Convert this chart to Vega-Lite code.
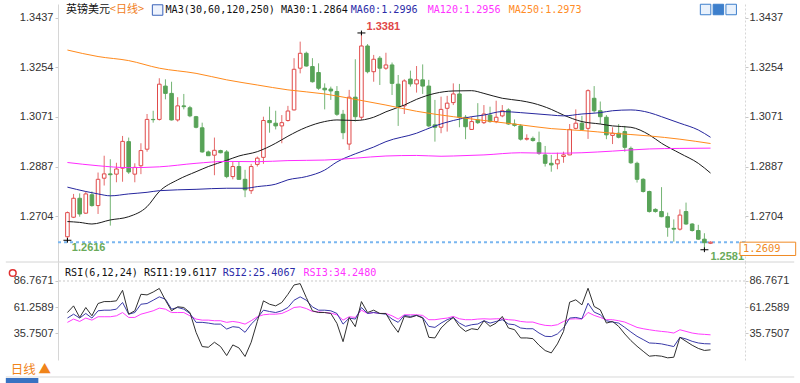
{
"$schema": "https://vega.github.io/schema/vega-lite/v6.json",
"width": 687,
"height": 360,
"autosize": {"type": "none"},
"padding": {"left": 58, "top": 0, "right": 55, "bottom": 23},
"background": "#ffffff",
"config": {"view": {"stroke": null}},
"datasets": {
"candles": [
{"i":0,"o":1.2629,"h":1.2722,"l":1.2616,"c":1.2718},
{"i":1,"o":1.2701,"h":1.2787,"l":1.2698,"c":1.2771},
{"i":2,"o":1.2771,"h":1.2789,"l":1.2703,"c":1.2713},
{"i":3,"o":1.2716,"h":1.2796,"l":1.2713,"c":1.2787},
{"i":4,"o":1.2784,"h":1.2796,"l":1.2740,"c":1.2744},
{"i":5,"o":1.2744,"h":1.2866,"l":1.2713,"c":1.2841},
{"i":6,"o":1.2845,"h":1.2928,"l":1.2818,"c":1.2861},
{"i":7,"o":1.2861,"h":1.2915,"l":1.2670,"c":1.2858},
{"i":8,"o":1.2860,"h":1.2902,"l":1.2830,"c":1.2879},
{"i":9,"o":1.2882,"h":1.3001,"l":1.2832,"c":1.2981},
{"i":10,"o":1.2980,"h":1.2995,"l":1.2861,"c":1.2868},
{"i":11,"o":1.2860,"h":1.2900,"l":1.2830,"c":1.2885},
{"i":12,"o":1.2891,"h":1.2974,"l":1.2860,"c":1.2947},
{"i":13,"o":1.2952,"h":1.3082,"l":1.2943,"c":1.3062},
{"i":14,"o":1.3062,"h":1.3094,"l":1.3050,"c":1.3061},
{"i":15,"o":1.3062,"h":1.3214,"l":1.3058,"c":1.3192},
{"i":16,"o":1.3185,"h":1.3210,"l":1.3136,"c":1.3158},
{"i":17,"o":1.3158,"h":1.3201,"l":1.3058,"c":1.3060},
{"i":18,"o":1.3060,"h":1.3144,"l":1.3054,"c":1.3112},
{"i":19,"o":1.3112,"h":1.3156,"l":1.3099,"c":1.3109},
{"i":20,"o":1.3105,"h":1.3112,"l":1.3070,"c":1.3075},
{"i":21,"o":1.3072,"h":1.3075,"l":1.3029,"c":1.3033},
{"i":22,"o":1.3031,"h":1.3050,"l":1.2939,"c":1.2942},
{"i":23,"o":1.2942,"h":1.2947,"l":1.2927,"c":1.2928},
{"i":24,"o":1.2930,"h":1.2995,"l":1.2856,"c":1.2948},
{"i":25,"o":1.2947,"h":1.2950,"l":1.2937,"c":1.2939},
{"i":26,"o":1.2942,"h":1.2949,"l":1.2845,"c":1.2851},
{"i":27,"o":1.2851,"h":1.2906,"l":1.2841,"c":1.2888},
{"i":28,"o":1.2888,"h":1.2906,"l":1.2839,"c":1.2841},
{"i":29,"o":1.2841,"h":1.2876,"l":1.2775,"c":1.2802},
{"i":30,"o":1.2799,"h":1.2898,"l":1.2787,"c":1.2888},
{"i":31,"o":1.2896,"h":1.2925,"l":1.2888,"c":1.2919},
{"i":32,"o":1.2922,"h":1.3072,"l":1.2898,"c":1.3058},
{"i":33,"o":1.3058,"h":1.3109,"l":1.3013,"c":1.3050},
{"i":34,"o":1.3048,"h":1.3094,"l":1.3025,"c":1.3038},
{"i":35,"o":1.3038,"h":1.3078,"l":1.2974,"c":1.3050},
{"i":36,"o":1.3058,"h":1.3112,"l":1.3054,"c":1.3093},
{"i":37,"o":1.3097,"h":1.3288,"l":1.3095,"c":1.3247},
{"i":38,"o":1.3251,"h":1.3349,"l":1.3232,"c":1.3306},
{"i":39,"o":1.3306,"h":1.3312,"l":1.3257,"c":1.3259},
{"i":40,"o":1.3257,"h":1.3288,"l":1.3198,"c":1.3201},
{"i":41,"o":1.3235,"h":1.3269,"l":1.3171,"c":1.3177},
{"i":42,"o":1.3177,"h":1.3195,"l":1.3099,"c":1.3171},
{"i":43,"o":1.3174,"h":1.3183,"l":1.3134,"c":1.3167},
{"i":44,"o":1.3165,"h":1.3185,"l":1.3075,"c":1.3081},
{"i":45,"o":1.3081,"h":1.3097,"l":1.2989,"c":1.3013},
{"i":46,"o":1.2971,"h":1.3171,"l":1.2949,"c":1.3144},
{"i":47,"o":1.3144,"h":1.3284,"l":1.3054,"c":1.3072},
{"i":48,"o":1.3070,"h":1.3381,"l":1.3060,"c":1.3333},
{"i":49,"o":1.3333,"h":1.3340,"l":1.3232,"c":1.3238},
{"i":50,"o":1.3238,"h":1.3300,"l":1.3201,"c":1.3284},
{"i":51,"o":1.3288,"h":1.3296,"l":1.3189,"c":1.3251},
{"i":52,"o":1.3251,"h":1.3308,"l":1.3245,"c":1.3263},
{"i":53,"o":1.3263,"h":1.3272,"l":1.3152,"c":1.3195},
{"i":54,"o":1.3192,"h":1.3226,"l":1.3038,"c":1.3109},
{"i":55,"o":1.3112,"h":1.3210,"l":1.3082,"c":1.3204},
{"i":56,"o":1.3211,"h":1.3242,"l":1.3183,"c":1.3193},
{"i":57,"o":1.3193,"h":1.3259,"l":1.3161,"c":1.3208},
{"i":58,"o":1.3208,"h":1.3265,"l":1.3156,"c":1.3185},
{"i":59,"o":1.3185,"h":1.3208,"l":1.3033,"c":1.3038},
{"i":60,"o":1.3042,"h":1.3134,"l":1.2980,"c":1.3033},
{"i":61,"o":1.3033,"h":1.3146,"l":1.3011,"c":1.3099},
{"i":62,"o":1.3103,"h":1.3149,"l":1.3017,"c":1.3122},
{"i":63,"o":1.3124,"h":1.3195,"l":1.3115,"c":1.3156},
{"i":64,"o":1.3156,"h":1.3193,"l":1.3033,"c":1.3070},
{"i":65,"o":1.3070,"h":1.3078,"l":1.2989,"c":1.3035},
{"i":66,"o":1.3025,"h":1.3072,"l":1.3023,"c":1.3054},
{"i":67,"o":1.3060,"h":1.3122,"l":1.3045,"c":1.3050},
{"i":68,"o":1.3050,"h":1.3115,"l":1.3045,"c":1.3082},
{"i":69,"o":1.3078,"h":1.3109,"l":1.3050,"c":1.3054},
{"i":70,"o":1.3054,"h":1.3131,"l":1.3048,"c":1.3070},
{"i":71,"o":1.3075,"h":1.3115,"l":1.3070,"c":1.3094},
{"i":72,"o":1.3097,"h":1.3103,"l":1.3042,"c":1.3045},
{"i":73,"o":1.3045,"h":1.3062,"l":1.3035,"c":1.3040},
{"i":74,"o":1.3038,"h":1.3045,"l":1.2984,"c":1.2989},
{"i":75,"o":1.2989,"h":1.3007,"l":1.2984,"c":1.2992},
{"i":76,"o":1.2992,"h":1.2999,"l":1.2980,"c":1.2984},
{"i":77,"o":1.2976,"h":1.3017,"l":1.2931,"c":1.2937},
{"i":78,"o":1.2931,"h":1.2964,"l":1.2888,"c":1.2900},
{"i":79,"o":1.2900,"h":1.2931,"l":1.2869,"c":1.2894},
{"i":80,"o":1.2898,"h":1.2939,"l":1.2878,"c":1.2913},
{"i":81,"o":1.2925,"h":1.2943,"l":1.2902,"c":1.2931},
{"i":82,"o":1.2931,"h":1.3045,"l":1.2930,"c":1.3025},
{"i":83,"o":1.3029,"h":1.3099,"l":1.3025,"c":1.3048},
{"i":84,"o":1.3048,"h":1.3075,"l":1.3023,"c":1.3025},
{"i":85,"o":1.3029,"h":1.3173,"l":1.2990,"c":1.3168},
{"i":86,"o":1.3140,"h":1.3185,"l":1.3087,"c":1.3094},
{"i":87,"o":1.3094,"h":1.3128,"l":1.3045,"c":1.3072},
{"i":88,"o":1.3070,"h":1.3078,"l":1.2989,"c":1.3005},
{"i":89,"o":1.3003,"h":1.3033,"l":1.2971,"c":1.3011},
{"i":90,"o":1.3011,"h":1.3045,"l":1.2992,"c":1.2996},
{"i":91,"o":1.3017,"h":1.3038,"l":1.2943,"c":1.2959},
{"i":92,"o":1.2955,"h":1.2962,"l":1.2898,"c":1.2902},
{"i":93,"o":1.2900,"h":1.2906,"l":1.2829,"c":1.2841},
{"i":94,"o":1.2841,"h":1.2845,"l":1.2792,"c":1.2796},
{"i":95,"o":1.2796,"h":1.2799,"l":1.2718,"c":1.2722},
{"i":96,"o":1.2730,"h":1.2734,"l":1.2718,"c":1.2722},
{"i":97,"o":1.2722,"h":1.2812,"l":1.2701,"c":1.2703},
{"i":98,"o":1.2703,"h":1.2718,"l":1.2629,"c":1.2664},
{"i":99,"o":1.2660,"h":1.2693,"l":1.2611,"c":1.2657},
{"i":100,"o":1.2657,"h":1.2730,"l":1.2652,"c":1.2709},
{"i":101,"o":1.2722,"h":1.2755,"l":1.2673,"c":1.2676},
{"i":102,"o":1.2676,"h":1.2679,"l":1.2648,"c":1.2652},
{"i":103,"o":1.2652,"h":1.2673,"l":1.2617,"c":1.2620},
{"i":104,"o":1.2620,"h":1.2642,"l":1.2581,"c":1.2607},
{"i":105,"o":1.2605,"h":1.2612,"l":1.2602,"c":1.2609}
],
"ma": [
{"s":"MA30","i":0,"v":1.2685},{"s":"MA30","i":2,"v":1.2682},{"s":"MA30","i":4,"v":1.2676},{"s":"MA30","i":7,"v":1.2691},{"s":"MA30","i":10,"v":1.2703},{"s":"MA30","i":13,"v":1.2740},{"s":"MA30","i":15,"v":1.2796},{"s":"MA30","i":18,"v":1.2839},{"s":"MA30","i":21,"v":1.2869},{"s":"MA30","i":23,"v":1.2888},{"s":"MA30","i":26,"v":1.2911},{"s":"MA30","i":28,"v":1.2927},{"s":"MA30","i":31,"v":1.2943},{"s":"MA30","i":34,"v":1.2974},{"s":"MA30","i":36,"v":1.3000},{"s":"MA30","i":39,"v":1.3033},{"s":"MA30","i":42,"v":1.3054},{"s":"MA30","i":44,"v":1.3060},{"s":"MA30","i":47,"v":1.3058},{"s":"MA30","i":50,"v":1.3070},{"s":"MA30","i":52,"v":1.3090},{"s":"MA30","i":55,"v":1.3115},{"s":"MA30","i":57,"v":1.3136},{"s":"MA30","i":60,"v":1.3158},{"s":"MA30","i":63,"v":1.3167},{"s":"MA30","i":66,"v":1.3168},{"s":"MA30","i":68,"v":1.3158},{"s":"MA30","i":71,"v":1.3140},{"s":"MA30","i":74,"v":1.3131},{"s":"MA30","i":76,"v":1.3122},{"s":"MA30","i":79,"v":1.3099},{"s":"MA30","i":81,"v":1.3078},{"s":"MA30","i":84,"v":1.3054},{"s":"MA30","i":87,"v":1.3045},{"s":"MA30","i":89,"v":1.3038},{"s":"MA30","i":92,"v":1.3033},{"s":"MA30","i":95,"v":1.3005},{"s":"MA30","i":97,"v":1.2974},{"s":"MA30","i":100,"v":1.2937},{"s":"MA30","i":103,"v":1.2900},{"s":"MA30","i":105,"v":1.2864},
{"s":"MA60","i":0,"v":1.2812},{"s":"MA60","i":3,"v":1.2796},{"s":"MA60","i":5,"v":1.2787},{"s":"MA60","i":7,"v":1.2780},{"s":"MA60","i":10,"v":1.2787},{"s":"MA60","i":13,"v":1.2793},{"s":"MA60","i":15,"v":1.2799},{"s":"MA60","i":21,"v":1.2804},{"s":"MA60","i":26,"v":1.2808},{"s":"MA60","i":29,"v":1.2808},{"s":"MA60","i":31,"v":1.2814},{"s":"MA60","i":34,"v":1.2823},{"s":"MA60","i":36,"v":1.2839},{"s":"MA60","i":39,"v":1.2851},{"s":"MA60","i":42,"v":1.2875},{"s":"MA60","i":44,"v":1.2905},{"s":"MA60","i":47,"v":1.2935},{"s":"MA60","i":50,"v":1.2960},{"s":"MA60","i":52,"v":1.2980},{"s":"MA60","i":57,"v":1.3011},{"s":"MA60","i":60,"v":1.3038},{"s":"MA60","i":63,"v":1.3058},{"s":"MA60","i":66,"v":1.3072},{"s":"MA60","i":68,"v":1.3078},{"s":"MA60","i":71,"v":1.3091},{"s":"MA60","i":74,"v":1.3087},{"s":"MA60","i":79,"v":1.3078},{"s":"MA60","i":81,"v":1.3075},{"s":"MA60","i":84,"v":1.3082},{"s":"MA60","i":87,"v":1.3087},{"s":"MA60","i":89,"v":1.3094},{"s":"MA60","i":92,"v":1.3097},{"s":"MA60","i":95,"v":1.3087},{"s":"MA60","i":97,"v":1.3072},{"s":"MA60","i":100,"v":1.3048},{"s":"MA60","i":103,"v":1.3023},{"s":"MA60","i":105,"v":1.2996},
{"s":"MA120","i":0,"v":1.2903},{"s":"MA120","i":5,"v":1.2891},{"s":"MA120","i":10,"v":1.2884},{"s":"MA120","i":15,"v":1.2887},{"s":"MA120","i":21,"v":1.2900},{"s":"MA120","i":26,"v":1.2907},{"s":"MA120","i":31,"v":1.2906},{"s":"MA120","i":36,"v":1.2910},{"s":"MA120","i":42,"v":1.2912},{"s":"MA120","i":47,"v":1.2919},{"s":"MA120","i":52,"v":1.2927},{"s":"MA120","i":57,"v":1.2929},{"s":"MA120","i":61,"v":1.2926},{"s":"MA120","i":63,"v":1.2927},{"s":"MA120","i":68,"v":1.2931},{"s":"MA120","i":74,"v":1.2939},{"s":"MA120","i":79,"v":1.2937},{"s":"MA120","i":84,"v":1.2939},{"s":"MA120","i":89,"v":1.2945},{"s":"MA120","i":95,"v":1.2953},{"s":"MA120","i":100,"v":1.2955},{"s":"MA120","i":105,"v":1.2956},
{"s":"MA250","i":0,"v":1.3318},{"s":"MA250","i":5,"v":1.3294},{"s":"MA250","i":10,"v":1.3279},{"s":"MA250","i":15,"v":1.3251},{"s":"MA250","i":21,"v":1.3232},{"s":"MA250","i":26,"v":1.3208},{"s":"MA250","i":31,"v":1.3189},{"s":"MA250","i":36,"v":1.3171},{"s":"MA250","i":42,"v":1.3156},{"s":"MA250","i":47,"v":1.3136},{"s":"MA250","i":52,"v":1.3115},{"s":"MA250","i":57,"v":1.3092},{"s":"MA250","i":63,"v":1.3072},{"s":"MA250","i":68,"v":1.3058},{"s":"MA250","i":74,"v":1.3042},{"s":"MA250","i":79,"v":1.3028},{"s":"MA250","i":84,"v":1.3021},{"s":"MA250","i":89,"v":1.3011},{"s":"MA250","i":95,"v":1.3001},{"s":"MA250","i":100,"v":1.2989},{"s":"MA250","i":105,"v":1.2973}
],
"rsi": [
{"i":0,"RSI1":56.0,"RSI2":50.6,"RSI3":46.4},{"i":1,"RSI1":62.5,"RSI2":54.4,"RSI3":49.6},{"i":2,"RSI1":51.2,"RSI2":50.6,"RSI3":47.3},{"i":3,"RSI1":60.9,"RSI2":55.1,"RSI3":50.6},{"i":4,"RSI1":52.8,"RSI2":50.6,"RSI3":48.6},{"i":5,"RSI1":64.8,"RSI2":57.7,"RSI3":51.9},{"i":6,"RSI1":66.7,"RSI2":58.3,"RSI3":51.9},{"i":7,"RSI1":66.7,"RSI2":58.3,"RSI3":51.9},{"i":8,"RSI1":67.4,"RSI2":59.3,"RSI3":52.8},{"i":9,"RSI1":77.7,"RSI2":65.8,"RSI3":56.0},
{"i":10,"RSI1":54.4,"RSI2":54.4,"RSI3":51.2},{"i":11,"RSI1":57.7,"RSI2":56.0,"RSI3":51.2},{"i":12,"RSI1":73.8,"RSI2":64.1,"RSI3":54.4},{"i":13,"RSI1":73.2,"RSI2":64.8,"RSI3":56.0},{"i":14,"RSI1":76.0,"RSI2":68.0,"RSI3":57.7},{"i":15,"RSI1":79.5,"RSI2":71.3,"RSI3":60.3},{"i":16,"RSI1":68.0,"RSI2":69.0,"RSI3":59.3},{"i":17,"RSI1":57.7,"RSI2":59.3,"RSI3":56.0},{"i":18,"RSI1":61.6,"RSI2":60.9,"RSI3":56.0},{"i":19,"RSI1":60.9,"RSI2":59.3,"RSI3":56.0},
{"i":20,"RSI1":56.0,"RSI2":55.1,"RSI3":52.8},{"i":21,"RSI1":36.7,"RSI2":46.4,"RSI3":49.6},{"i":22,"RSI1":22.8,"RSI2":46.4,"RSI3":48.6},{"i":23,"RSI1":22.1,"RSI2":45.7,"RSI3":48.6},{"i":24,"RSI1":27.0,"RSI2":44.7,"RSI3":48.0},{"i":25,"RSI1":22.8,"RSI2":44.7,"RSI3":48.0},{"i":26,"RSI1":14.0,"RSI2":39.9,"RSI3":46.4},{"i":27,"RSI1":24.4,"RSI2":42.2,"RSI3":47.3},{"i":28,"RSI1":21.5,"RSI2":41.5,"RSI3":46.4},{"i":29,"RSI1":13.1,"RSI2":36.7,"RSI3":44.7},
{"i":30,"RSI1":27.0,"RSI2":44.7,"RSI3":48.0},{"i":31,"RSI1":47.3,"RSI2":50.6,"RSI3":51.9},{"i":32,"RSI1":67.4,"RSI2":58.3,"RSI3":53.8},{"i":33,"RSI1":64.1,"RSI2":57.0,"RSI3":54.4},{"i":34,"RSI1":62.5,"RSI2":56.0,"RSI3":54.4},{"i":35,"RSI1":65.8,"RSI2":57.7,"RSI3":55.1},{"i":36,"RSI1":73.8,"RSI2":60.9,"RSI3":57.7},{"i":37,"RSI1":82.9,"RSI2":68.0,"RSI3":60.9},{"i":38,"RSI1":84.2,"RSI2":71.3,"RSI3":61.6},{"i":39,"RSI1":70.6,"RSI2":68.0,"RSI3":59.9},
{"i":40,"RSI1":57.7,"RSI2":61.5,"RSI3":57.0},{"i":41,"RSI1":56.0,"RSI2":58.3,"RSI3":56.7},{"i":42,"RSI1":56.0,"RSI2":58.3,"RSI3":56.0},{"i":43,"RSI1":55.1,"RSI2":57.7,"RSI3":55.4},{"i":44,"RSI1":45.4,"RSI2":55.1,"RSI3":53.8},{"i":45,"RSI1":27.6,"RSI2":44.7,"RSI3":48.6},{"i":46,"RSI1":51.2,"RSI2":50.6,"RSI3":51.9},{"i":47,"RSI1":42.2,"RSI2":49.6,"RSI3":51.2},{"i":48,"RSI1":66.7,"RSI2":60.9,"RSI3":58.3},{"i":49,"RSI1":56.0,"RSI2":55.1,"RSI3":55.1},
{"i":50,"RSI1":58.3,"RSI2":56.0,"RSI3":56.0},{"i":51,"RSI1":55.1,"RSI2":55.1,"RSI3":55.1},{"i":52,"RSI1":55.1,"RSI2":54.4,"RSI3":55.1},{"i":53,"RSI1":44.7,"RSI2":49.6,"RSI3":52.8},{"i":54,"RSI1":36.7,"RSI2":46.4,"RSI3":49.6},{"i":55,"RSI1":52.2,"RSI2":53.2,"RSI3":53.8},{"i":56,"RSI1":51.2,"RSI2":52.2,"RSI3":53.8},{"i":57,"RSI1":53.2,"RSI2":53.2,"RSI3":53.8},{"i":58,"RSI1":50.6,"RSI2":51.2,"RSI3":53.2},{"i":59,"RSI1":31.8,"RSI2":42.5,"RSI3":49.0},
{"i":60,"RSI1":31.2,"RSI2":41.5,"RSI3":49.0},{"i":61,"RSI1":40.9,"RSI2":45.7,"RSI3":49.9},{"i":62,"RSI1":46.7,"RSI2":49.0,"RSI3":50.6},{"i":63,"RSI1":51.2,"RSI2":51.2,"RSI3":52.2},{"i":64,"RSI1":42.5,"RSI2":45.7,"RSI3":49.9},{"i":65,"RSI1":37.6,"RSI2":42.5,"RSI3":49.0},{"i":66,"RSI1":40.2,"RSI2":44.1,"RSI3":49.0},{"i":67,"RSI1":39.3,"RSI2":44.8,"RSI3":49.6},{"i":68,"RSI1":48.0,"RSI2":48.0,"RSI3":49.9},{"i":69,"RSI1":42.5,"RSI2":45.7,"RSI3":49.6},
{"i":70,"RSI1":45.7,"RSI2":47.3,"RSI3":49.9},{"i":71,"RSI1":52.2,"RSI2":49.0,"RSI3":49.9},{"i":72,"RSI1":40.9,"RSI2":44.8,"RSI3":49.0},{"i":73,"RSI1":39.3,"RSI2":44.1,"RSI3":48.6},{"i":74,"RSI1":31.2,"RSI2":40.9,"RSI3":47.3},{"i":75,"RSI1":31.2,"RSI2":40.2,"RSI3":46.7},{"i":76,"RSI1":30.5,"RSI2":40.2,"RSI3":46.7},{"i":77,"RSI1":24.1,"RSI2":36.0,"RSI3":44.8},{"i":78,"RSI1":18.9,"RSI2":32.8,"RSI3":43.5},{"i":79,"RSI1":16.6,"RSI2":32.5,"RSI3":43.1},
{"i":80,"RSI1":25.4,"RSI2":35.1,"RSI3":44.1},{"i":81,"RSI1":37.6,"RSI2":40.9,"RSI3":47.3},{"i":82,"RSI1":66.1,"RSI2":50.6,"RSI3":49.6},{"i":83,"RSI1":68.4,"RSI2":51.2,"RSI3":49.9},{"i":84,"RSI1":63.5,"RSI2":49.9,"RSI3":49.6},{"i":85,"RSI1":79.7,"RSI2":65.1,"RSI3":56.1},{"i":86,"RSI1":61.9,"RSI2":56.4,"RSI3":53.2},{"i":87,"RSI1":58.6,"RSI2":53.8,"RSI3":51.2},{"i":88,"RSI1":45.7,"RSI2":48.0,"RSI3":49.0},{"i":89,"RSI1":47.3,"RSI2":46.7,"RSI3":49.0},
{"i":90,"RSI1":42.5,"RSI2":45.7,"RSI3":48.0},{"i":91,"RSI1":35.1,"RSI2":41.5,"RSI3":46.7},{"i":92,"RSI1":28.6,"RSI2":37.0,"RSI3":44.1},{"i":93,"RSI1":23.1,"RSI2":32.8,"RSI3":41.5},{"i":94,"RSI1":18.2,"RSI2":29.6,"RSI3":40.2},{"i":95,"RSI1":13.4,"RSI2":26.3,"RSI3":39.2},{"i":96,"RSI1":14.0,"RSI2":26.0,"RSI3":38.3},{"i":97,"RSI1":13.4,"RSI2":25.4,"RSI3":37.6},{"i":98,"RSI1":11.8,"RSI2":24.1,"RSI3":37.0},{"i":99,"RSI1":12.4,"RSI2":22.8,"RSI3":36.0},
{"i":100,"RSI1":31.8,"RSI2":31.8,"RSI3":39.2},{"i":101,"RSI1":27.9,"RSI2":30.2,"RSI3":37.6},{"i":102,"RSI1":24.1,"RSI2":27.9,"RSI3":36.0},{"i":103,"RSI1":21.0,"RSI2":26.3,"RSI3":35.1},{"i":104,"RSI1":19.0,"RSI2":25.6,"RSI3":34.7},{"i":105,"RSI1":19.6117,"RSI2":25.4067,"RSI3":34.248}
],
"ext": [{"i":48,"p":1.3381},{"i":0,"p":1.2616},{"i":104,"p":1.2581}]
},
"layer": [
{"layer": [
 {"data":{"values":[{}]},"mark":{"type":"rule","opacity":0},
  "encoding":{"y":{"datum":1.3,"type":"quantitative","scale":{"domain":[1.25358,1.34879],"range":[262,4],"nice":false,"zero":false},
   "axis":{"orient":"left","values":[1.2704,1.2887,1.3071,1.3254,1.3437],"format":".4f","title":null,"grid":false,"labelFont":"Liberation Sans","labelFontSize":11,"labelColor":"#333333","tickSize":3,"tickColor":"#c8c8c8","labelPadding":2,"domainColor":"#d6d6d6"}}}}
]},
{"layer": [
 {"data":{"values":[{}]},"mark":{"type":"rule","color":"#7ab6f0","strokeWidth":2,"strokeDash":[3,3]},
  "encoding":{"y":{"datum":1.2609,"type":"quantitative","scale":{"domain":[1.25358,1.34879],"range":[262,4],"nice":false,"zero":false},
   "axis":{"orient":"right","values":[1.2704,1.2887,1.3071,1.3254,1.3437],"format":".4f","title":null,"grid":false,"labelFont":"Liberation Sans","labelFontSize":11,"labelColor":"#333333","tickSize":3,"tickColor":"#c8c8c8","labelPadding":1,"domainColor":"#d6d6d6","domainDash":[2,2]}}}}
]},
{"layer": [
 {"data":{"values":[{}]},"mark":{"type":"rule","opacity":0},
  "encoding":{"y":{"datum":50,"type":"quantitative","scale":{"domain":[9.69,105.30],"range":[360,262],"nice":false,"zero":false},
   "axis":{"orient":"left","values":[35.7507,61.2589,86.7671],"format":".4f","title":null,"grid":false,"labelFont":"Liberation Sans","labelFontSize":11,"labelColor":"#333333","tickSize":3,"tickColor":"#c8c8c8","labelPadding":2,"domainColor":"#d6d6d6"}}}}
]},
{"layer": [
 {"data":{"values":[{}]},"mark":{"type":"rule","color":"#c8c8c8","strokeWidth":1,"strokeDash":[2,2]},
  "encoding":{"y":{"datum":86.7671,"type":"quantitative","scale":{"domain":[9.69,105.30],"range":[360,262],"nice":false,"zero":false},
   "axis":{"orient":"right","values":[35.7507,61.2589,86.7671],"format":".4f","title":null,"grid":false,"labelFont":"Liberation Sans","labelFontSize":11,"labelColor":"#333333","tickSize":3,"tickColor":"#c8c8c8","labelPadding":1,"domainColor":"#d6d6d6","domainDash":[2,2]}}}}
]},
{"layer": [
 {"data":{"name":"candles"},"mark":{"type":"rule","strokeWidth":1},
  "encoding":{
   "x":{"field":"i","type":"quantitative","scale":{"domain":[-0.724,109.81],"nice":false,"zero":false},"axis":null},
   "y":{"field":"l","type":"quantitative","scale":{"domain":[1.25358,1.34879],"range":[262,4],"nice":false,"zero":false},"axis":null},
   "y2":{"field":"h"},
   "color":{"condition":{"test":"datum.c > datum.o","value":"#e46a6a"},"value":"#74b474"}}},
 {"data":{"name":"candles"},"mark":{"type":"bar","width":3.6,"strokeWidth":1,"orient":"vertical"},
  "encoding":{
   "x":{"field":"i","type":"quantitative","scale":{"domain":[-0.724,109.81],"nice":false,"zero":false},"axis":null},
   "y":{"field":"o","type":"quantitative","scale":{"domain":[1.25358,1.34879],"range":[262,4],"nice":false,"zero":false},"axis":null},
   "y2":{"field":"c"},
   "fill":{"condition":{"test":"datum.c > datum.o","value":"#ffffff"},"value":"#58a358"},
   "stroke":{"condition":{"test":"datum.c > datum.o","value":"#e04a4a"},"value":"#58a358"}}},
 {"data":{"name":"ma"},"mark":{"type":"line","strokeWidth":1,"interpolate":"monotone"},
  "encoding":{
   "x":{"field":"i","type":"quantitative","scale":{"domain":[-0.724,109.81],"nice":false,"zero":false},"axis":null},
   "y":{"field":"v","type":"quantitative","scale":{"domain":[1.25358,1.34879],"range":[262,4],"nice":false,"zero":false},"axis":null},
   "color":{"field":"s","type":"nominal","scale":{"domain":["MA30","MA60","MA120","MA250","RSI1","RSI2","RSI3"],"range":["#1a1a1a","#26269e","#ff2bff","#ff8a1c","#303030","#3a3aa8","#ff3cff"]},"legend":null}}},
 {"data":{"name":"ext"},"mark":{"type":"point","shape":"M-1,0H1M0,-0.6V0.6","filled":false,"size":64,"strokeWidth":1,"color":"#000000","opacity":1},
  "encoding":{
   "x":{"field":"i","type":"quantitative","scale":{"domain":[-0.724,109.81],"nice":false,"zero":false},"axis":null},
   "y":{"field":"p","type":"quantitative","scale":{"domain":[1.25358,1.34879],"range":[262,4],"nice":false,"zero":false},"axis":null}}},
 {"data":{"values":[{}]},"mark":{"type":"text","text":"英镑美元","align":"left","baseline":"middle","font":"Noto Sans CJK SC","fontSize":11,"color":"#111111"},
  "encoding":{"x":{"datum":-0.24,"type":"quantitative","scale":{"domain":[-0.724,109.81],"nice":false,"zero":false},"axis":null},"y":{"datum":1.34657,"type":"quantitative","scale":{"domain":[1.25358,1.34879],"range":[262,4],"nice":false,"zero":false},"axis":null}}},
 {"data":{"values":[{}]},"mark":{"type":"text","text":"<日线>","align":"left","baseline":"middle","font":"Noto Sans CJK SC","fontSize":11,"color":"#f07d1a"},
  "encoding":{"x":{"datum":6.92,"type":"quantitative","scale":{"domain":[-0.724,109.81],"nice":false,"zero":false},"axis":null},"y":{"datum":1.34657,"type":"quantitative","scale":{"domain":[1.25358,1.34879],"range":[262,4],"nice":false,"zero":false},"axis":null}}},
 {"data":{"values":[{}]},"mark":{"type":"point","shape":"square","filled":true,"size":110,"fill":"#eef3fd","stroke":"#3a62b8","strokeWidth":1,"opacity":1},
  "encoding":{"x":{"datum":14.72,"type":"quantitative","scale":{"domain":[-0.724,109.81],"nice":false,"zero":false},"axis":null},"y":{"datum":1.34657,"type":"quantitative","scale":{"domain":[1.25358,1.34879],"range":[262,4],"nice":false,"zero":false},"axis":null}}},
 {"data":{"values":[{}]},"mark":{"type":"text","text":"MA3(30,60,120,250) MA30:1.2864","align":"left","baseline":"middle","font":"DejaVu Sans Mono","fontSize":10.1,"color":"#111111"},
  "encoding":{"x":{"datum":16.01,"type":"quantitative","scale":{"domain":[-0.724,109.81],"nice":false,"zero":false},"axis":null},"y":{"datum":1.34657,"type":"quantitative","scale":{"domain":[1.25358,1.34879],"range":[262,4],"nice":false,"zero":false},"axis":null}}},
 {"data":{"values":[{}]},"mark":{"type":"text","text":"MA60:1.2996","align":"left","baseline":"middle","font":"DejaVu Sans Mono","fontSize":10.1,"color":"#2b2ba8"},
  "encoding":{"x":{"datum":46.26,"type":"quantitative","scale":{"domain":[-0.724,109.81],"nice":false,"zero":false},"axis":null},"y":{"datum":1.34657,"type":"quantitative","scale":{"domain":[1.25358,1.34879],"range":[262,4],"nice":false,"zero":false},"axis":null}}},
 {"data":{"values":[{}]},"mark":{"type":"text","text":"MA120:1.2956","align":"left","baseline":"middle","font":"DejaVu Sans Mono","fontSize":10.1,"color":"#ff33ff"},
  "encoding":{"x":{"datum":58.81,"type":"quantitative","scale":{"domain":[-0.724,109.81],"nice":false,"zero":false},"axis":null},"y":{"datum":1.34657,"type":"quantitative","scale":{"domain":[1.25358,1.34879],"range":[262,4],"nice":false,"zero":false},"axis":null}}},
 {"data":{"values":[{}]},"mark":{"type":"text","text":"MA250:1.2973","align":"left","baseline":"middle","font":"DejaVu Sans Mono","fontSize":10.1,"color":"#ff8c26"},
  "encoding":{"x":{"datum":72.04,"type":"quantitative","scale":{"domain":[-0.724,109.81],"nice":false,"zero":false},"axis":null},"y":{"datum":1.34657,"type":"quantitative","scale":{"domain":[1.25358,1.34879],"range":[262,4],"nice":false,"zero":false},"axis":null}}},
 {"data":{"values":[{"k":104.19,"f":"#e8f1fc"},{"k":106.28,"f":"#3d7fcc"},{"k":108.37,"f":"#e8f1fc"}]},"mark":{"type":"point","shape":"square","filled":true,"size":110,"stroke":"#3d7fcc","strokeWidth":1,"opacity":1},
  "encoding":{"x":{"field":"k","type":"quantitative","scale":{"domain":[-0.724,109.81],"nice":false,"zero":false},"axis":null},"y":{"datum":1.34676,"type":"quantitative","scale":{"domain":[1.25358,1.34879],"range":[262,4],"nice":false,"zero":false},"axis":null},"fill":{"field":"f","type":"nominal","scale":null}}},
 {"data":{"values":[{}]},"mark":{"type":"text","text":"1.3381","align":"left","baseline":"middle","font":"Liberation Sans","fontWeight":"bold","fontSize":11,"color":"#e04848"},
  "encoding":{"x":{"datum":48.83,"type":"quantitative","scale":{"domain":[-0.724,109.81],"nice":false,"zero":false},"axis":null},"y":{"datum":1.34041,"type":"quantitative","scale":{"domain":[1.25358,1.34879],"range":[262,4],"nice":false,"zero":false},"axis":null}}},
 {"data":{"values":[{}]},"mark":{"type":"text","text":"1.2616","align":"left","baseline":"middle","font":"Liberation Sans","fontWeight":"bold","fontSize":11,"color":"#6aaa5a"},
  "encoding":{"x":{"datum":0.72,"type":"quantitative","scale":{"domain":[-0.724,109.81],"nice":false,"zero":false},"axis":null},"y":{"datum":1.25886,"type":"quantitative","scale":{"domain":[1.25358,1.34879],"range":[262,4],"nice":false,"zero":false},"axis":null}}},
 {"data":{"values":[{}]},"mark":{"type":"text","text":"1.2581","align":"left","baseline":"middle","font":"Liberation Sans","fontWeight":"bold","fontSize":11,"color":"#6aaa5a"},
  "encoding":{"x":{"datum":104.98,"type":"quantitative","scale":{"domain":[-0.724,109.81],"nice":false,"zero":false},"axis":null},"y":{"datum":1.25554,"type":"quantitative","scale":{"domain":[1.25358,1.34879],"range":[262,4],"nice":false,"zero":false},"axis":null}}},
 {"data":{"values":[{}]},"mark":{"type":"rect","fill":"#ffffff","stroke":"#f08a24","strokeWidth":1},
  "encoding":{"x":{"datum":109.81,"type":"quantitative","scale":{"domain":[-0.724,109.81],"nice":false,"zero":false},"axis":null},"x2":{"datum":118.9},"y":{"datum":1.2609,"type":"quantitative","scale":{"domain":[1.25358,1.34879],"range":[262,4],"nice":false,"zero":false},"axis":null},"y2":{"datum":1.25598}}},
 {"data":{"values":[{}]},"mark":{"type":"text","text":"1.2609","align":"left","baseline":"middle","font":"DejaVu Sans Mono","fontSize":10.4,"color":"#f08a24"},
  "encoding":{"x":{"datum":110.29,"type":"quantitative","scale":{"domain":[-0.724,109.81],"nice":false,"zero":false},"axis":null},"y":{"datum":1.25838,"type":"quantitative","scale":{"domain":[1.25358,1.34879],"range":[262,4],"nice":false,"zero":false},"axis":null}}}
]},
{"layer": [
 {"data":{"name":"rsi"},"transform":[{"fold":["RSI3","RSI2","RSI1"],"as":["s","v"]}],"mark":{"type":"line","strokeWidth":1},
  "encoding":{
   "x":{"field":"i","type":"quantitative","scale":{"domain":[-0.724,109.81],"nice":false,"zero":false},
        "axis":{"orient":"bottom","values":[20,40,61,83],"labelExpr":"datum.value==20?'2019/02':datum.value==40?'2019/03':datum.value==61?'2019/04':'2019/05'","labelAlign":"left","labelFont":"Liberation Sans","labelFontWeight":"bold","labelFontSize":12,"labelColor":"#444444","tickSize":3,"tickColor":"#bbbbbb","labelPadding":1,"domainColor":"#d6d6d6","grid":false,"title":null,"labelOverlap":false,"labelFlush":false}},
   "y":{"field":"v","type":"quantitative","scale":{"domain":[9.69,105.30],"range":[360,262],"nice":false,"zero":false},"axis":null},
   "color":{"field":"s","type":"nominal","scale":{"domain":["MA30","MA60","MA120","MA250","RSI1","RSI2","RSI3"],"range":["#1a1a1a","#26269e","#ff2bff","#ff8a1c","#303030","#3a3aa8","#ff3cff"]},"legend":null}}},
 {"data":{"values":[{}]},"mark":{"type":"rule","color":"#d4d4d4","strokeWidth":1},
  "encoding":{"x":{"datum":-10.06,"type":"quantitative","scale":{"domain":[-0.724,109.81],"nice":false,"zero":false},"axis":null},"x2":{"datum":118.66},"y":{"datum":105.3,"type":"quantitative","scale":{"domain":[9.69,105.30],"range":[360,262],"nice":false,"zero":false},"axis":null}}},
 {"data":{"values":[{}]},"mark":{"type":"text","text":"RSI(6,12,24) RSI1:19.6117","align":"left","baseline":"middle","font":"DejaVu Sans Mono","fontSize":10.1,"color":"#111111"},
  "encoding":{"x":{"datum":-0.40,"type":"quantitative","scale":{"domain":[-0.724,109.81],"nice":false,"zero":false},"axis":null},"y":{"datum":94.28,"type":"quantitative","scale":{"domain":[9.69,105.30],"range":[360,262],"nice":false,"zero":false},"axis":null}}},
 {"data":{"values":[{}]},"mark":{"type":"text","text":"RSI2:25.4067","align":"left","baseline":"middle","font":"DejaVu Sans Mono","fontSize":10.1,"color":"#2b2ba8"},
  "encoding":{"x":{"datum":25.34,"type":"quantitative","scale":{"domain":[-0.724,109.81],"nice":false,"zero":false},"axis":null},"y":{"datum":94.28,"type":"quantitative","scale":{"domain":[9.69,105.30],"range":[360,262],"nice":false,"zero":false},"axis":null}}},
 {"data":{"values":[{}]},"mark":{"type":"text","text":"RSI3:34.2480","align":"left","baseline":"middle","font":"DejaVu Sans Mono","fontSize":10.1,"color":"#ff33ff"},
  "encoding":{"x":{"datum":38.53,"type":"quantitative","scale":{"domain":[-0.724,109.81],"nice":false,"zero":false},"axis":null},"y":{"datum":94.28,"type":"quantitative","scale":{"domain":[9.69,105.30],"range":[360,262],"nice":false,"zero":false},"axis":null}}},
 {"data":{"values":[{}]},"mark":{"type":"point","shape":"circle","filled":false,"size":45,"stroke":"#e03030","strokeWidth":1.5,"opacity":1},
  "encoding":{"x":{"datum":-8.93,"type":"quantitative","scale":{"domain":[-0.724,109.81],"nice":false,"zero":false},"axis":null},"y":{"datum":94.57,"type":"quantitative","scale":{"domain":[9.69,105.30],"range":[360,262],"nice":false,"zero":false},"axis":null}}},
 {"data":{"values":[{}]},"mark":{"type":"text","text":"日线 ▲","align":"left","baseline":"middle","font":"Noto Sans CJK SC","fontSize":12.5,"color":"#f0841a"},
  "encoding":{"x":{"datum":-9.25,"type":"quantitative","scale":{"domain":[-0.724,109.81],"nice":false,"zero":false},"axis":null},"y":{"datum":-0.06,"type":"quantitative","scale":{"domain":[9.69,105.30],"range":[360,262],"nice":false,"zero":false},"axis":null}}},
 {"data":{"values":[{}]},"mark":{"type":"rule","color":"#d8d8d8","strokeWidth":1},
  "encoding":{"x":{"datum":-10.06,"type":"quantitative","scale":{"domain":[-0.724,109.81],"nice":false,"zero":false},"axis":null},"x2":{"datum":118.66},"y":{"datum":-6.89,"type":"quantitative","scale":{"domain":[9.69,105.30],"range":[360,262],"nice":false,"zero":false},"axis":null}}},
 {"data":{"values":[{}]},"mark":{"type":"rect","fill":"#3872c2"},
  "encoding":{"x":{"datum":-10.06,"type":"quantitative","scale":{"domain":[-0.724,109.81],"nice":false,"zero":false},"axis":null},"x2":{"datum":-4.75},"y":{"datum":-7.9,"type":"quantitative","scale":{"domain":[9.69,105.30],"range":[360,262],"nice":false,"zero":false},"axis":null},"y2":{"datum":-13.5}}}
]}
],
"resolve": {"scale": {"y": "independent"}, "axis": {"y": "independent"}}
}
